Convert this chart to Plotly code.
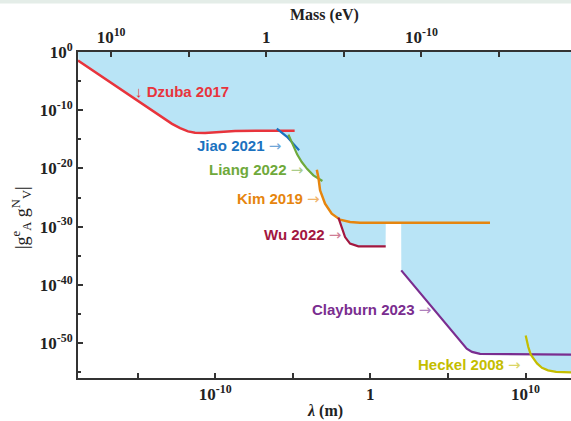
import numpy as np
import plotly.graph_objects as go

# ---- data (log10 values) ----
dzuba_loglam = [-18.84, -17.42, -15.05, -13.55, -12.78, -12.26, -11.75, -11.30, -10.65, -9.68, -8.72, -7.11, -4.88]
dzuba_logg = [-1.46, -4.04, -8.25, -10.96, -12.34, -13.08, -13.63, -13.88, -13.93, -13.76, -13.56, -13.51, -13.51]

jiao_loglam = [-6.03, -5.37, -4.59]
jiao_logg = [-13.16, -14.57, -16.89]

liang_loglam = [-5.28, -4.96, -4.72, -4.42, -4.08, -3.67, -3.09]
liang_logg = [-14.19, -16.32, -17.58, -18.90, -20.07, -21.19, -22.16]

kim_loglam = [-3.45, -3.34, -3.24, -2.92, -2.49, -1.95, -1.31, -0.67, 7.71]
kim_logg = [-20.21, -21.70, -23.76, -26.05, -27.77, -28.80, -29.21, -29.31, -29.31]

wu_loglam = [-2.06, -1.84, -1.63, -1.31, -0.77, 0.99]
wu_logg = [-28.45, -30.34, -31.79, -32.92, -33.38, -33.38]

clay_loglam = [1.99, 6.21, 6.55, 7.07, 12.93]
clay_logg = [-37.51, -50.96, -51.51, -51.86, -51.99]

heckel_loglam = [10.01, 10.18, 10.34, 10.50, 10.74, 11.06, 11.45, 11.97, 12.93]
heckel_logg = [-48.68, -50.69, -51.99, -52.68, -53.49, -54.26, -54.69, -54.95, -55.03]

x_tickvals = [1e-15, 1e-10, 1e-5, 1, 1e5, 1e10]
x_ticktext = ["", "10<sup>-10</sup>", "", "1", "", "10<sup>10</sup>"]
mass_tickvals = [1e10, 1e5, 1, 1e-5, 1e-10, 1e-15]
mass_ticktext = ["10<sup>10</sup>", "", "1", "", "10<sup>-10</sup>", ""]
y_major = [1e0, 1e-10, 1e-20, 1e-30, 1e-40, 1e-50]
y_major_text = ["10<sup>0</sup>", "10<sup>-10</sup>", "10<sup>-20</sup>", "10<sup>-30</sup>", "10<sup>-40</sup>", "10<sup>-50</sup>"]
y_minor = [1e-5, 1e-15, 1e-25, 1e-35, 1e-45, 1e-55]

HC_EV_M = 1.97327e-7  # lambda = hbar c / m

XR = [-18.84, 12.93]
YR = [-56.0, 0.0]

curves = [
    ("Dzuba 2017", dzuba_loglam, dzuba_logg, "#e8343c", 2.5),
    ("Jiao 2021", jiao_loglam, jiao_logg, "#1b72bf", 2.2),
    ("Liang 2022", liang_loglam, liang_logg, "#6fa93b", 2.2),
    ("Kim 2019", kim_loglam, kim_logg, "#e6850e", 2.5),
    ("Wu 2022", wu_loglam, wu_logg, "#a3173f", 2.2),
    ("Clayburn 2023", clay_loglam, clay_logg, "#7a2d8f", 2.2),
    ("Heckel 2008", heckel_loglam, heckel_logg, "#c4bd00", 2.2),
]

# excluded region: above the lower envelope of all curves
grid = np.linspace(XR[0], XR[1], 3200)
env = []
for gx in grid:
    vals = [np.interp(gx, cx, cy) for _, cx, cy, _, _ in curves if cx[0] <= gx <= cx[-1]]
    env.append(min(vals))
env = np.array(env)
poly_x = np.concatenate([[XR[0]], grid, [XR[1]]])
poly_y = np.concatenate([[0.0], env, [0.0]])

fig = go.Figure()
fig.add_trace(go.Scatter(x=10 ** poly_x, y=10 ** poly_y, fill="toself", fillcolor="#b9e4f6",
                         line=dict(width=0), mode="lines", hoverinfo="skip", showlegend=False))
for name, cx, cy, col, w in curves:
    fig.add_trace(go.Scatter(x=10 ** np.array(cx), y=10 ** np.array(cy), mode="lines",
                             line=dict(color=col, width=w), name=name, showlegend=False))
# invisible trace for top axis
fig.add_trace(go.Scatter(x=[10 ** XR[0], 10 ** XR[1]], y=[1e-30, 1e-30], xaxis="x2", mode="lines",
                         line=dict(width=0), hoverinfo="skip", showlegend=False))

tickfont = dict(family="Liberation Serif", size=17, color="#222")
axcol = "#333333"

fig.update_layout(
    width=571, height=421,
    margin=dict(l=78, r=0, t=52, b=43),
    paper_bgcolor="white", plot_bgcolor="white",
    xaxis=dict(type="log", range=XR, showgrid=False, zeroline=False, showline=True, linecolor=axcol, linewidth=2,
               ticks="inside", ticklen=5, tickwidth=1.5, tickcolor=axcol,
               tickmode="array", tickvals=x_tickvals, ticktext=["<b>%s</b>" % t if t else "" for t in x_ticktext],
               tickfont=tickfont),
    xaxis2=dict(type="log", range=XR, overlaying="x", side="top", anchor="y", showgrid=False, zeroline=False,
                showline=True, linecolor=axcol, linewidth=2, ticks="inside", ticklen=5, tickwidth=1.5, tickcolor=axcol,
                tickmode="array", tickvals=[HC_EV_M / m for m in mass_tickvals],
                ticktext=["<b>%s</b>" % t if t else "" for t in mass_ticktext], tickfont=tickfont),
    yaxis=dict(type="log", range=YR, showgrid=False, zeroline=False, showline=True, linecolor=axcol, linewidth=2,
               ticks="inside", ticklen=5, tickwidth=1.5, tickcolor=axcol,
               tickmode="array", tickvals=y_major, ticktext=["<b>%s</b>" % t for t in y_major_text],
               tickfont=tickfont,
               minor=dict(tickvals=y_minor, ticks="inside", ticklen=3, tickwidth=1.5, tickcolor=axcol)),
)

labfont = "Liberation Sans"


def arrow(col):
    return "<span style='font-family:DejaVu Sans;font-size:15px;color:%s'>→</span>" % col


labels = [
    ("<b>↓ Dzuba 2017</b>", -15.29, -6.70, "left", "#e8343c", "#f08a8f"),
    ("<b>Jiao 2021</b> ", -5.625, -16.15, "right", "#1b72bf", "#6fa6d8"),
    ("<b>Liang 2022</b> ", -4.23, -20.21, "right", "#6fa93b", "#a9cc8a"),
    ("<b>Kim 2019</b> ", -3.13, -25.19, "right", "#e6850e", "#f0b36a"),
    ("<b>Wu 2022</b> ", -1.74, -31.49, "right", "#a3173f", "#cf7d95"),
    ("<b>Clayburn 2023</b> ", 4.06, -44.26, "right", "#7a2d8f", "#ae80bc"),
    ("<b>Heckel 2008</b> ", 9.86, -53.71, "right", "#c4bd00", "#dad566"),
]
for txt, lx, ly, anc, col, light in labels:
    full = txt if anc == "left" else txt + arrow(light)
    fig.add_annotation(x=lx, y=ly, xref="x", yref="y", text=full, showarrow=False, xanchor=anc, yanchor="middle",
                       font=dict(family=labfont, size=15, color=col))

fig.add_annotation(x=(324 - 78) / 493, y=(378 - 15) / 326, xref="paper", yref="paper", text="<b>Mass (eV)</b>",
                   showarrow=False, xanchor="center", yanchor="middle",
                   font=dict(family="Liberation Serif", size=16, color="#222"))
fig.add_annotation(x=(325 - 78) / 493, y=(378 - 411) / 326, xref="paper", yref="paper",
                   text="<b><i>λ</i> (m)</b>", showarrow=False, xanchor="center", yanchor="middle",
                   font=dict(family="Liberation Serif", size=16, color="#222"))
fig.add_annotation(x=(22 - 78) / 493, y=(378 - 218) / 326, xref="paper", yref="paper",
                   text="|g<sup>e</sup><sub>A</sub> g<sup>N</sup><sub>V</sub>|", textangle=-90, showarrow=False,
                   xanchor="center", yanchor="middle",
                   font=dict(family="Liberation Serif", size=18, color="#222"))
fig.add_shape(type="rect", xref="paper", yref="paper", x0=-78 / 493, x1=1.0, y0=(378 - 3.5) / 326,
              y1=(378 + 1) / 326, fillcolor="#e4ede8", line=dict(width=0), layer="above")

fig.write_html("out.html", config={"displayModeBar": False},
               post_script="document.body.style.margin='0';document.body.style.overflow='hidden';")
